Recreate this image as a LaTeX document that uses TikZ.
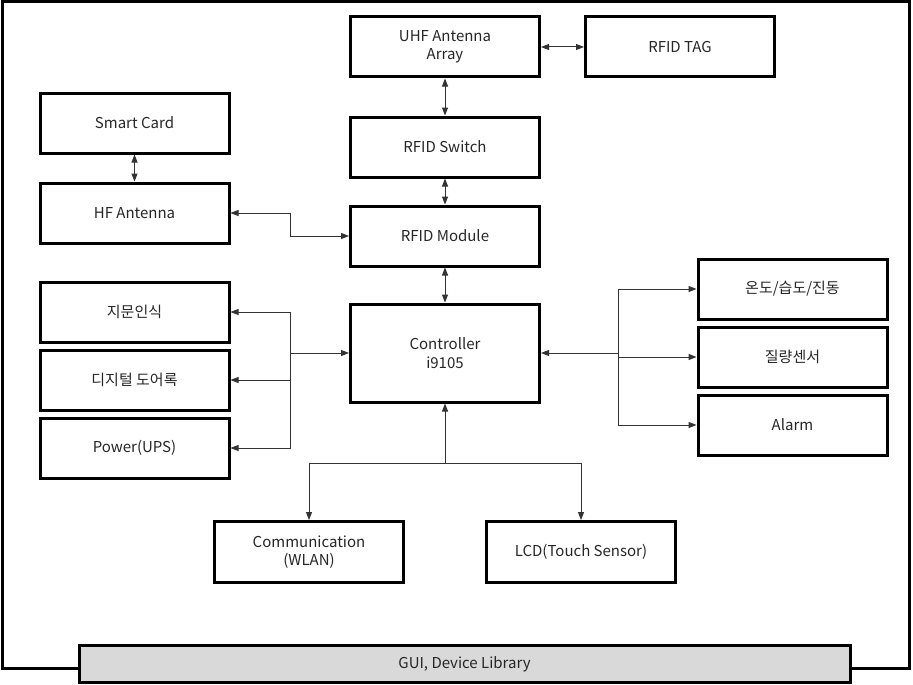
\documentclass[tikz,border=0pt]{standalone}
\usepackage{fontspec}
\setmainfont{Noto Sans CJK KR}
\usetikzlibrary{arrows.meta}
\begin{document}
\begin{tikzpicture}[x=1pt,y=-1pt,
  box/.style={draw=black, line width=3pt, minimum width=189pt, minimum height=60pt, align=center, inner sep=0pt, font=\fontsize{15}{18.5}\selectfont, text=black!85},
  conn/.style={line width=1pt, draw=black!80, -{Triangle[length=8pt,width=6pt]}},
  conn2/.style={line width=1pt, draw=black!80, {Triangle[length=8pt,width=6pt]}-{Triangle[length=8pt,width=6pt]}}]
\useasboundingbox (0,0) rectangle (913,685);
\draw[line width=3pt] (2,2) rectangle (909,668);
\node[box] (uhf) at (445,47) {UHF Antenna\\Array};
\node[box] (tag) at (680,47) {RFID TAG};
\node[box] (sw) at (445,147) {RFID Switch};
\node[box] (mod) at (445,236) {RFID Module};
\node[box] (sc) at (134.5,123) {Smart Card};
\node[box] (hf) at (134.5,213) {HF Antenna};
\node[box, minimum height=98pt] (ctrl) at (445,353) {Controller\\i9105};
\node[box] (fp) at (134.5,312) {지문인식};
\node[box] (door) at (134.5,380) {디지털 도어록};
\node[box] (pwr) at (134.5,448) {Power(UPS)};
\node[box] (temp) at (792.5,289) {온도/습도/진동};
\node[box] (mass) at (792.5,357) {질량센서};
\node[box] (alarm) at (792.5,425) {Alarm};
\node[box, minimum height=61pt] (comm) at (309,552) {Communication\\(WLAN)};
\node[box, minimum height=61pt] (lcd) at (581,552) {LCD(Touch Sensor)};
\node[box, fill=black!15, minimum width=771pt, minimum height=37pt] (gui) at (464.5,664) {GUI, Device Library};
\coordinate (jl) at (290,353);
\coordinate (jr) at (618,353);
\coordinate (jb) at (445,463);
\draw[conn2] (uhf.east) -- (tag.west);
\draw[conn2] (uhf.south) -- (sw.north);
\draw[conn2] (sw.south) -- (mod.north);
\draw[conn2] (mod.south) -- (ctrl.north);
\draw[conn2] (sc.south) -- (hf.north);
\draw[conn2] (hf.east) -- ++(60,0) |- (mod.west);
\draw[conn] (jl) -- (ctrl.west);
\draw[conn] (jl) |- (fp.east);
\draw[conn] (jl) |- (door.east);
\draw[conn] (jl) |- (pwr.east);
\draw[conn] (jr) -- (ctrl.east);
\draw[conn] (jr) |- (temp.west);
\draw[conn] (jr) |- (mass.west);
\draw[conn] (jr) |- (alarm.west);
\draw[conn] (jb) -- (ctrl.south);
\draw[conn] (jb) -| (comm.north);
\draw[conn] (jb) -| (lcd.north);
\end{tikzpicture}
\end{document}
